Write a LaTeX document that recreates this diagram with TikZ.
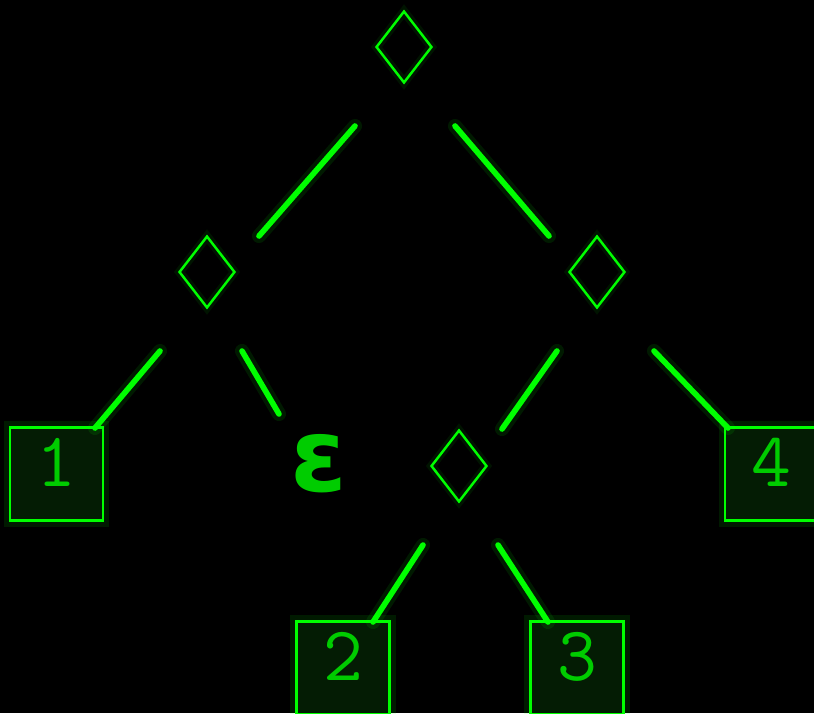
\documentclass[tikz,border=0pt]{standalone}
\usepackage{fontspec}
\usepackage{tikz}
\usetikzlibrary{shapes.geometric}
\newfontfamily\epsfont{DejaVu Sans}

\definecolor{neon}{HTML}{00FF00}
\definecolor{neondim}{HTML}{00CC00}
\definecolor{boxfill}{HTML}{041C04}

\begin{document}
\begin{tikzpicture}[x=0.02cm, y=-0.02cm,
  choice/.style={draw=neon, diamond, line width=1.4pt, inner sep=0pt,
    minimum width=1.12cm, minimum height=1.44cm,
    preaction={draw=neon, line width=5pt, opacity=0.08}},
  leaf/.style={draw=neon, fill=boxfill, line width=1.5pt, minimum size=1.86cm,
    inner sep=0pt, text=neondim, font=\ttfamily\fontsize{44}{44}\selectfont,
    text height=0.9cm, text depth=0.4cm,
    preaction={draw=neon, line width=7pt, opacity=0.1}},
  empty/.style={text=neondim, font=\epsfont\bfseries\fontsize{58}{58}\selectfont},
  edge/.style={draw=neon, line width=3.2pt, line cap=round,
    preaction={draw=neon, line width=8pt, opacity=0.1, line cap=round}}
]
  \fill[black] (0,0) rectangle (814,713);
  \useasboundingbox (0,0) rectangle (814,713);

  \node[choice] (root) at (404,47) {};
  \node[choice] (nl) at (207,272) {};
  \node[choice] (nr) at (597,272) {};
  \node[choice] (nm) at (459,466) {};

  \node[leaf] (leaf1) at (56.5,474) {1};
  \node[empty] (eps) at (319,464) {ε};
  \node[leaf] (leaf4) at (771.5,474) {4};
  \node[leaf] (leaf2) at (343,668) {2};
  \node[leaf] (leaf3) at (577,668) {3};

  \draw[edge] ([shift={(-49,79)}]root.center) -- ([shift={(52,-36)}]nl.center);
  \draw[edge] ([shift={(51,79)}]root.center) -- ([shift={(-48,-36)}]nr.center);
  \draw[edge] ([shift={(-47,79)}]nl.center) -- ([shift={(38.5,-46)}]leaf1.center);
  \draw[edge] ([shift={(35,79)}]nl.center) -- ([shift={(-40,-50)}]eps.center);
  \draw[edge] ([shift={(-40,79)}]nr.center) -- ([shift={(43,-37)}]nm.center);
  \draw[edge] ([shift={(57,79)}]nr.center) -- ([shift={(-43.5,-46)}]leaf4.center);
  \draw[edge] ([shift={(-36,79)}]nm.center) -- ([shift={(30,-46)}]leaf2.center);
  \draw[edge] ([shift={(39,79)}]nm.center) -- ([shift={(-29,-46)}]leaf3.center);
\end{tikzpicture}
\end{document}
